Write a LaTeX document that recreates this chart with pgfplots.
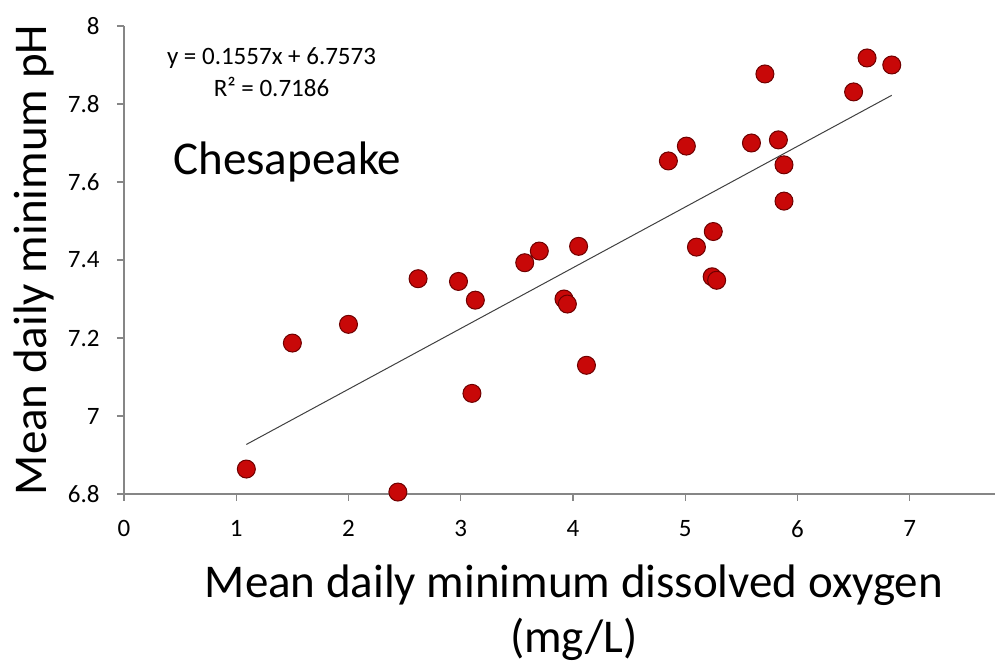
\documentclass[border=0pt]{standalone}
\usepackage{fontspec}
\setmainfont{Carlito}
\usepackage{pgfplots}
\pgfplotsset{compat=1.18}
\definecolor{axgray}{RGB}{134,134,134}
\definecolor{mkfill}{RGB}{200,8,8}
\definecolor{mkedge}{RGB}{110,0,0}
\begin{document}
\begin{tikzpicture}
\path[use as bounding box] (-62pt,-84pt) rectangle (435.5pt,247pt);
\begin{axis}[
  at={(0,0)}, anchor=south west,
  scale only axis, width=435.5pt, height=234pt,
  xmin=0, xmax=7.76, ymin=6.8, ymax=8,
  axis lines*=left,
  axis line style={axgray, line width=0.6pt},
  tick style={axgray, line width=0.6pt},
  tick align=outside, major tick length=3.5pt,
  xtick={0,1,2,3,4,5,6,7},
  ytick={6.8,7,7.2,7.4,7.6,7.8,8},
  yticklabels={6.8,7,7.2,7.4,7.6,7.8,8},
  xticklabels={0,1,2,3,4,5,6,7},
  ticklabel style={font=\fontsize{12.5}{15}\selectfont, text=black},
  yticklabel style={anchor=east, inner sep=0pt, xshift=-8.5pt},
  xticklabel style={anchor=north, inner sep=0pt, yshift=-9.5pt},
  clip=false,
]
\addplot[black!75, line width=0.5pt] coordinates {(1.09,6.9270) (6.84,7.8223)};
\addplot[only marks, mark=*, mark size=4.5pt,
  mark options={fill=mkfill, draw=mkedge, line width=0.5pt}] coordinates {
(1.09,6.864) (1.50,7.187) (2.00,7.235) (2.44,6.805) (2.62,7.352)
(2.98,7.345) (3.10,7.058) (3.13,7.297) (3.57,7.393) (3.70,7.423)
(3.92,7.300) (3.95,7.287) (4.05,7.435) (4.12,7.130) (4.85,7.654)
(5.01,7.692) (5.10,7.433) (5.25,7.473) (5.24,7.357) (5.28,7.348)
(5.59,7.700) (5.71,7.877) (5.83,7.708) (5.88,7.644) (5.88,7.551)
(6.50,7.831) (6.62,7.918) (6.84,7.900)
};
\end{axis}
\node[anchor=base, inner sep=0pt, font=\fontsize{12.5}{15}\selectfont] at (73.75pt,214.5pt) {y = 0.1557x + 6.7573};
\node[anchor=base, inner sep=0pt, font=\fontsize{12.5}{15}\selectfont] at (73.75pt,198.5pt) {R² = 0.7186};
\node[anchor=base west, inner sep=0pt, font=\fontsize{23.5}{28}\selectfont] at (24.5pt,159.5pt) {Chesapeake};
\node[anchor=base, rotate=90, inner sep=0pt, font=\fontsize{23.5}{28}\selectfont] at (-38.5pt,117pt) {Mean daily minimum pH};
\node[anchor=base, inner sep=0pt, font=\fontsize{23.5}{28}\selectfont] at (225pt,-52pt) {Mean daily minimum dissolved oxygen};
\node[anchor=base, inner sep=0pt, font=\fontsize{23.5}{28}\selectfont] at (225pt,-79.5pt) {(mg/L)};
\end{tikzpicture}
\end{document}
